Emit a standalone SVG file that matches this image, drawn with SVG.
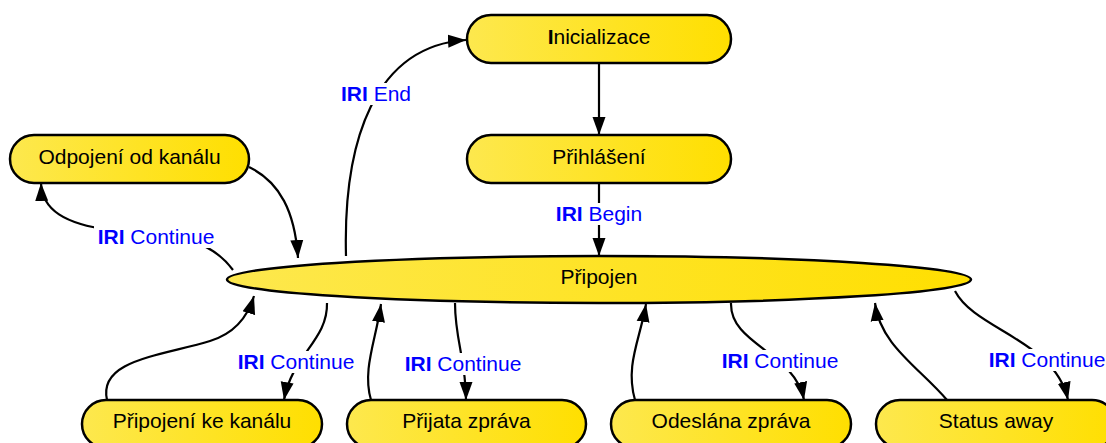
<svg xmlns="http://www.w3.org/2000/svg" width="1106" height="443" viewBox="0 0 1106 443">
<defs>
<linearGradient id="g" x1="0" y1="0" x2="1" y2="0">
<stop offset="0" stop-color="#fde84e"/>
<stop offset="1" stop-color="#ffdf00"/>
</linearGradient>
<marker id="a" markerUnits="userSpaceOnUse" markerWidth="19" markerHeight="14" refX="18" refY="7" orient="auto">
<path d="M0,0.5 L18,7 L0,13.5 z" fill="#000"/>
</marker>
<style>
.n{fill:url(#g);stroke:#000;stroke-width:2.5}
.t{font-family:"Liberation Sans",Arial,sans-serif;font-size:21px;fill:#000;text-anchor:middle}
.e{fill:none;stroke:#000;stroke-width:2.2;marker-end:url(#a)}
.lb{fill:#fff}
.l{font-family:"Liberation Sans",Arial,sans-serif;font-size:21px;fill:#0000ff;text-anchor:middle}
.b{font-weight:bold}
</style>
</defs>
<rect width="1106" height="443" fill="#fff"/>
<g id="connectors">
<path class="e" d="M599,63 L599,135"/>
<path class="e" d="M599,183 L599,256"/>
<path class="e" d="M346,256 C343,140 375,46 466,40"/>
<path class="e" d="M249,167 C280,182 295,212 298,258"/>
<path class="e" d="M233,270 C205,232 160,236 110,230 C65,224 42,210 41,183"/>
<path class="e" d="M107,400 C98,360 160,356 210,341 C236,333 248,316 254,296"/>
<path class="e" d="M327,303 C328,340 292,355 284,400"/>
<path class="e" d="M371,400 C362,370 376,340 381,304"/>
<path class="e" d="M455,303 C455,340 466,360 466,400"/>
<path class="e" d="M635,400 C625,365 640,340 646,304"/>
<path class="e" d="M731,303 C730,345 795,352 804,400"/>
<path class="e" d="M947,400 C920,368 880,345 875,303"/>
<path class="e" d="M955,291 C975,330 1055,340 1068,400"/>
<rect class="lb" x="338" y="83" width="78" height="22"/>
<text class="l" x="376" y="101"><tspan class="b">IRI</tspan> End</text>
<rect class="lb" x="553" y="203" width="92" height="22"/>
<text class="l" x="599" y="221"><tspan class="b">IRI</tspan> Begin</text>
<rect class="lb" x="94" y="226" width="124" height="22"/>
<text class="l" x="156" y="244"><tspan class="b">IRI</tspan> Continue</text>
<rect class="lb" x="234" y="351" width="124" height="22"/>
<text class="l" x="296" y="369"><tspan class="b">IRI</tspan> Continue</text>
<rect class="lb" x="401" y="353" width="124" height="22"/>
<text class="l" x="463" y="371"><tspan class="b">IRI</tspan> Continue</text>
<rect class="lb" x="718" y="350" width="124" height="22"/>
<text class="l" x="780" y="368"><tspan class="b">IRI</tspan> Continue</text>
<rect class="lb" x="985" y="349" width="124" height="22"/>
<text class="l" x="1047" y="367"><tspan class="b">IRI</tspan> Continue</text>
</g>
<g id="inicializace">
<rect class="n" x="467" y="15" width="264" height="48" rx="24"/>
<text class="t" x="599" y="44"><tspan class="b">I</tspan>nicializace</text>
</g>
<g id="prihlaseni">
<rect class="n" x="467" y="135" width="264" height="48" rx="24"/>
<text class="t" x="599" y="164">Přihlášení</text>
</g>
<g id="odpojeni">
<rect class="n" x="10" y="135" width="239" height="48" rx="24"/>
<text class="t" x="129.5" y="164">Odpojení od kanálu</text>
</g>
<g id="pripojen">
<ellipse class="n" cx="599" cy="279.5" rx="372" ry="23.5"/>
<text class="t" x="599" y="284">Připojen</text>
</g>
<g id="pripojeni-ke-kanalu">
<rect class="n" x="82" y="400" width="240" height="48" rx="24"/>
<text class="t" x="202" y="428">Připojení ke kanálu</text>
</g>
<g id="prijata-zprava">
<rect class="n" x="347" y="400" width="239" height="48" rx="24"/>
<text class="t" x="466.5" y="428">Přijata zpráva</text>
</g>
<g id="odeslana-zprava">
<rect class="n" x="611" y="400" width="240" height="48" rx="24"/>
<text class="t" x="731" y="428">Odeslána zpráva</text>
</g>
<g id="status-away">
<rect class="n" x="876" y="400" width="240" height="48" rx="24"/>
<text class="t" x="996" y="428">Status away</text>
</g>
</svg>
